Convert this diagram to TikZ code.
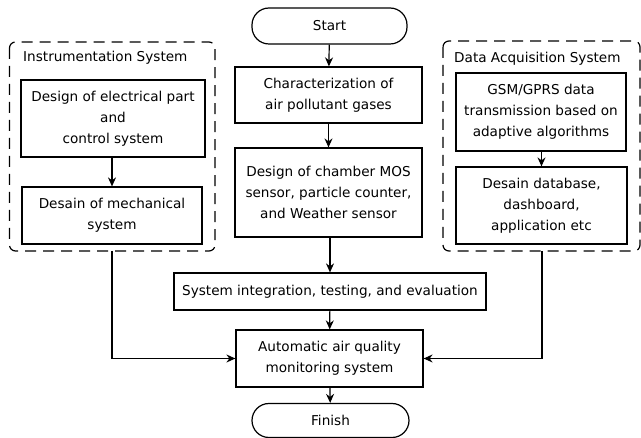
\documentclass[tikz,border=0pt]{standalone}
\usepackage{fontspec}
\setmainfont{DejaVu Sans}
\usetikzlibrary{arrows.meta}
\begin{document}
\begin{tikzpicture}[x=1pt,y=-1pt,
  font=\fontsize{13.6}{20.8}\selectfont,
  box/.style={draw, line width=1.2pt, align=center, inner sep=0pt},
  term/.style={box, rounded corners=17pt},
  grp/.style={draw, line width=1.2pt, dash pattern=on 11pt off 7pt, rounded corners=6pt},
  arr/.style={-{Stealth[length=9pt,width=8pt]}, line width=1.2pt},
  lbl/.style={anchor=west, inner sep=0pt}]
\useasboundingbox (0,0) rectangle (641,438);
% groups
\draw[grp] (9.5,42) rectangle (215,251);
\draw[grp] (443,41) rectangle (640,251);
\coordinate (gl) at (112,251);
\coordinate (gr) at (542,251);
\node[lbl] (lt) at (23,58) {Instrumentation System};
\node[lbl] (rt) at (454,59) {Data Acquisition System};
% main column
\node[term, minimum width=155pt, minimum height=36pt] (start) at (329.5,26) {Start};
\node[box, minimum width=187pt, minimum height=56pt] (char) at (328.5,95) {Characterization of\\air pollutant gases};
\node[box, minimum width=187pt, minimum height=89pt] (design) at (328.5,192.5) {Design of chamber MOS\\sensor, particle counter,\\and Weather sensor};
\node[box, minimum width=312pt, minimum height=37pt] (sys) at (330,291.5) {System integration, testing, and evaluation};
\node[box, minimum width=187pt, minimum height=57pt] (auto) at (329.5,358.5) {Automatic air quality\\monitoring system};
\node[term, minimum width=157pt, minimum height=34pt] (finish) at (330.5,420.5) {Finish};
% left group
\node[box, minimum width=184pt, minimum height=77pt] (ins1) at (113,118.5) {Design of electrical part\\and\\control system};
\node[box, minimum width=180pt, minimum height=57pt] (ins2) at (112,215.5) {Desain of mechanical\\system};
% right group
\node[box, minimum width=170pt, minimum height=78pt] (gsm) at (541,112) {GSM/GPRS data\\transmission based on\\adaptive algorithms};
\node[box, minimum width=171pt, minimum height=77pt] (db) at (541.5,205.5) {Desain database,\\dashboard,\\application etc};
% arrows
\draw[arr] (start) -- (char);
\draw[arr] (char) -- (design);
\draw[arr] (design.south -| sys.north) -- (sys.north);
\draw[arr] (sys) -- (auto);
\draw[arr] (auto) -- (finish);
\draw[arr] (ins1.south -| ins2.north) -- (ins2.north);
\draw[arr] (gsm.south -| db.north) -- (db.north);
\draw[arr] (gl) |- (auto.west);
\draw[arr] (gr) |- (auto.east);
\end{tikzpicture}
\end{document}
